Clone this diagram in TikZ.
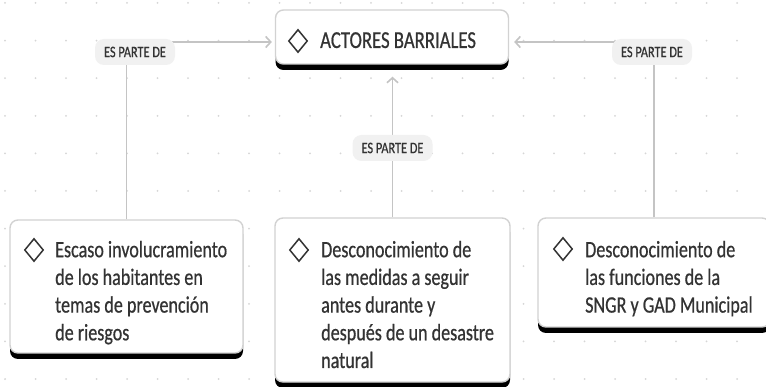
\documentclass[tikz,border=0pt]{standalone}
\usepackage{fontspec}
\setmainfont{Carlito}[FakeStretch=0.77, FakeBold=0.6]
\usetikzlibrary{shapes.geometric,shadows,arrows.meta}
\definecolor{txt}{HTML}{333333}
\definecolor{boxgray}{HTML}{D2D2D2}
\definecolor{linegray}{HTML}{C4C4C4}
\definecolor{labgray}{HTML}{F1F1F1}
\definecolor{dotgray}{HTML}{D6D6D6}
\begin{document}
\begin{tikzpicture}[x=1pt,y=-1pt,
  card/.style={draw=boxgray, line width=1.4pt, fill=white, rounded corners=8pt, inner sep=0,
    general shadow={fill=black, shadow yshift=-6pt}},
  icon/.style={diamond, draw=txt, line width=1.5pt, minimum width=19pt, minimum height=23pt, inner sep=0},
  body/.style={anchor=north west, inner sep=0, align=left, text=txt, font=\fontsize{23.5}{27.7}\selectfont},
  lab/.style={fill=labgray, rounded corners=9pt, minimum width=80pt, minimum height=26pt, inner sep=0,
    text=txt, font=\fontsize{16}{18}\selectfont},
  conn/.style={draw=linegray, line width=1.6pt, -{Straight Barb[length=5pt,width=11pt]}}
]
\useasboundingbox (0,0) rectangle (766,387);
\clip (0,0) rectangle (766,387);
\fill[white] (0,0) rectangle (766,387);
% dot grid
\foreach \i in {0,...,25}{
  \foreach \j in {0,...,10}{
    \fill[dotgray] (5+30.5*\i, 3+37.6*\j) circle (1pt);
  }
}
% cards
\node[card, minimum width=233pt, minimum height=54pt] (top) at (392,37) {};
\node[card, minimum width=233pt, minimum height=133pt] (lbox) at (126.5,286.5) {};
\node[card, minimum width=235pt, minimum height=164pt] (mbox) at (392.5,300) {};
\node[card, minimum width=232pt, minimum height=109pt] (rbox) at (654,272.5) {};
% icons
\node[icon] (itop) at (298,41) {};
\node[icon] (il) at (34,250) {};
\node[icon] (im) at (299,250) {};
\node[icon] (ir) at (563,249) {};
% texts
\node[anchor=base west, inner sep=0, text=txt, font=\fontsize{24.3}{28}\selectfont] (ttop) at (320,48) {ACTORES BARRIALES};
\node[body] (tl) at (55,238) {\rule{0pt}{19pt}Escaso involucramiento\\de los habitantes en\\temas de prevención\\de riesgos};
\node[body] (tm) at (321,238) {\rule{0pt}{19pt}Desconocimiento de\\las medidas a seguir\\antes durante y\\después de un desastre\\natural};
\node[body] (tr) at (585,238) {\rule{0pt}{19pt}Desconocimiento de\\las funciones de la\\SNGR y GAD Municipal};
% connectors
\draw[conn, shorten >=3pt] (lbox.north) |- ([yshift=-5pt]top.west);
\draw[conn, shorten >=5pt] (rbox.north) |- ([yshift=-5pt]top.east);
\draw[conn, shorten >=12pt] (mbox.north) -- (mbox.north |- top.south);
% labels
\node[lab] (l1) at (135,52) {ES PARTE DE};
\node[lab] (l2) at (652,52) {ES PARTE DE};
\node[lab] (l3) at (392.5,148) {ES PARTE DE};
\end{tikzpicture}
\end{document}
